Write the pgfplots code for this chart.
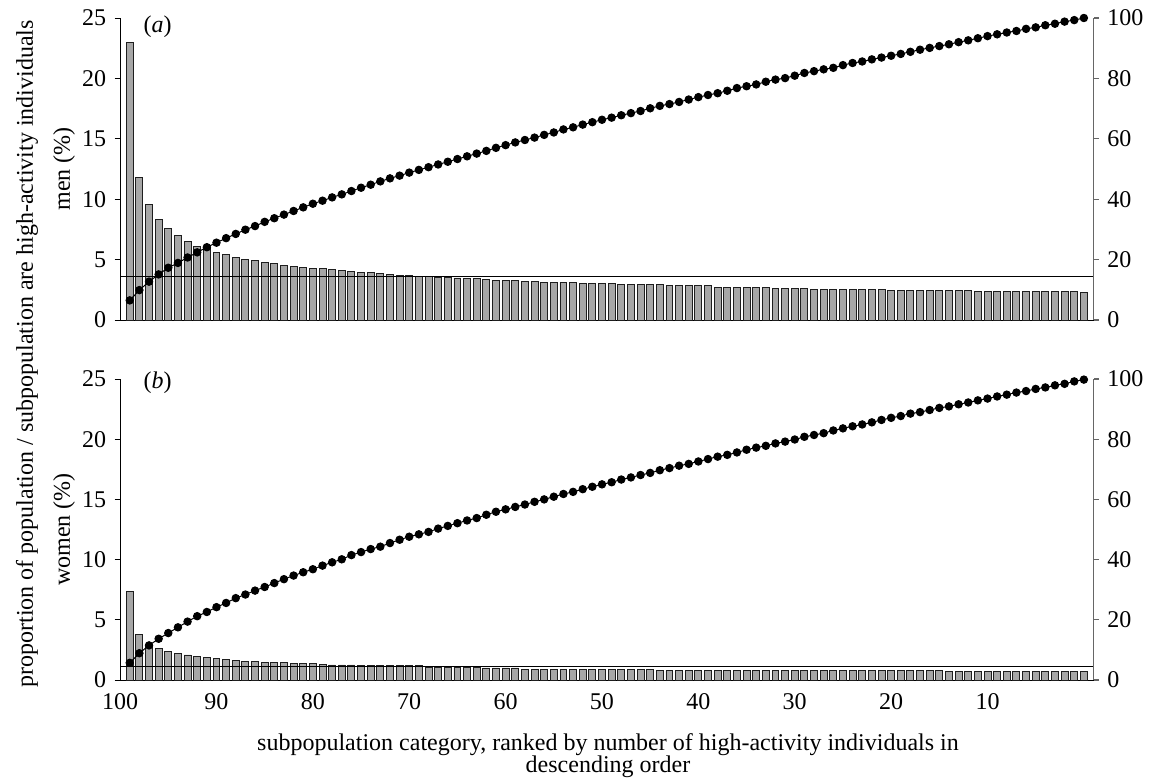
\documentclass[border=0pt]{standalone}
\usepackage{fontspec}
\setmainfont{Liberation Serif}
\usepackage{pgfplots}
\usepackage{pgfplotstable}
\pgfplotsset{compat=1.18}
\definecolor{barfill}{RGB}{166,166,166}
\definecolor{baredge}{RGB}{30,30,30}

\pgfplotstableread{
pos bar cum
1 23.0 6.5
2 11.8 9.9
3 9.6 12.7
4 8.3 15.1
5 7.6 17.3
6 7.0 18.9
7 6.5 20.7
8 6.1 22.4
9 5.9 24.1
10 5.6 25.6
11 5.4 27.1
12 5.2 28.5
13 5.0 29.9
14 4.9 31.1
15 4.8 32.5
16 4.65 33.7
17 4.5 34.9
18 4.4 36.1
19 4.35 37.3
20 4.3 38.5
21 4.25 39.5
22 4.2 40.6
23 4.1 41.6
24 4.0 42.7
25 3.95 43.8
26 3.9 44.8
27 3.85 45.9
28 3.75 46.9
29 3.7 47.8
30 3.65 48.8
31 3.62 49.7
32 3.58 50.6
33 3.55 51.5
34 3.5 52.4
35 3.48 53.3
36 3.45 54.2
37 3.42 55.1
38 3.36 56.0
39 3.3 57.0
40 3.28 57.9
41 3.25 58.8
42 3.22 59.6
43 3.2 60.4
44 3.14 61.3
45 3.14 62.1
46 3.14 63.1
47 3.14 63.8
48 3.03 64.7
49 3.03 65.5
50 3.03 66.3
51 3.03 67.0
52 2.92 67.8
53 2.92 68.5
54 2.92 69.2
55 2.92 70.1
56 2.92 70.9
57 2.84 71.5
58 2.84 72.2
59 2.84 73.0
60 2.84 73.8
61 2.84 74.5
62 2.73 75.1
63 2.73 75.9
64 2.73 76.8
65 2.73 77.4
66 2.73 78.0
67 2.73 78.9
68 2.62 79.6
69 2.62 80.1
70 2.62 80.9
71 2.62 81.8
72 2.54 82.4
73 2.54 83.0
74 2.54 83.5
75 2.54 84.4
76 2.54 85.1
77 2.54 85.6
78 2.54 86.3
79 2.54 86.9
80 2.45 87.5
81 2.45 88.1
82 2.45 88.8
83 2.45 89.5
84 2.45 90.1
85 2.45 90.7
86 2.45 91.3
87 2.45 92.0
88 2.45 92.6
89 2.34 93.3
90 2.34 94.0
91 2.34 94.6
92 2.34 95.2
93 2.34 95.7
94 2.34 96.4
95 2.34 96.9
96 2.34 97.6
97 2.34 98.1
98 2.34 98.8
99 2.34 99.3
100 2.25 100
}\men

\pgfplotstableread{
pos bar cum
1 7.35 5.7
2 3.8 8.9
3 2.95 11.5
4 2.6 13.7
5 2.38 15.6
6 2.2 17.5
7 2.08 19.4
8 1.97 21.2
9 1.86 22.6
10 1.77 24.2
11 1.67 25.6
12 1.64 27.2
13 1.56 28.4
14 1.55 29.7
15 1.47 30.9
16 1.47 32.2
17 1.46 33.5
18 1.37 34.7
19 1.36 35.8
20 1.36 36.8
21 1.26 38.0
22 1.25 39.1
23 1.25 40.1
24 1.25 41.5
25 1.17 42.5
26 1.17 43.5
27 1.17 44.3
28 1.17 45.5
29 1.17 46.6
30 1.17 47.6
31 1.17 48.4
32 1.08 49.2
33 1.08 50.3
34 1.08 51.2
35 1.08 52.1
36 1.08 53.0
37 1.08 53.8
38 1.0 54.9
39 1.0 55.9
40 1.0 56.7
41 1.0 57.5
42 0.9 58.3
43 0.9 59.2
44 0.9 60.0
45 0.9 60.9
46 0.9 61.8
47 0.9 62.5
48 0.9 63.4
49 0.9 64.2
50 0.9 65.0
51 0.9 65.7
52 0.9 66.6
53 0.9 67.3
54 0.9 68.1
55 0.9 68.8
56 0.8 69.7
57 0.8 70.4
58 0.8 71.2
59 0.8 71.8
60 0.8 72.6
61 0.8 73.4
62 0.8 74.2
63 0.8 74.8
64 0.8 75.6
65 0.8 76.5
66 0.8 77.2
67 0.8 77.8
68 0.8 78.6
69 0.8 79.2
70 0.8 79.9
71 0.77 80.8
72 0.77 81.4
73 0.77 82.0
74 0.77 82.9
75 0.77 83.6
76 0.77 84.3
77 0.77 84.9
78 0.77 85.6
79 0.77 86.4
80 0.77 87.1
81 0.77 87.7
82 0.77 88.5
83 0.77 89.0
84 0.77 89.7
85 0.77 90.4
86 0.74 90.9
87 0.74 91.6
88 0.74 92.2
89 0.74 92.9
90 0.74 93.5
91 0.74 94.2
92 0.74 94.8
93 0.74 95.5
94 0.74 96.0
95 0.74 96.7
96 0.74 97.2
97 0.74 97.9
98 0.74 98.4
99 0.74 99.2
100 0.74 99.8
}\women

\pgfplotsset{
  base/.style={
    scale only axis, width=486.7pt, anchor=south west,
    xmin=0, xmax=101,
    tick align=outside, major tick length=2.75pt,
    /pgf/number format/assume math mode=true,
    tick label style={font=\fontsize{12}{13}\selectfont},
    clip=false,
  },
  barax/.style={base,
    ymin=0, ymax=25, ytick={0,5,10,15,20,25},
    axis x line*=bottom, axis y line*=left,
    axis line style={black, line width=0.5pt},
    ytick style={black, line width=0.5pt},
  },
  cumax/.style={base,
    ymin=0, ymax=100, ytick={0,20,40,60,80,100},
    axis x line=none, axis y line*=right,
    y axis line style={black!60, line width=0.6pt},
    ytick style={black!60, line width=0.6pt},
  },
  bars/.style={ybar, bar width=0.72, fill=barfill, draw=baredge, line width=0.45pt},
  cumline/.style={black, line width=0.5pt, mark=*, mark size=1.85pt, mark options={fill=black, draw=black}},
}

\begin{document}
\fontsize{12}{13}\selectfont
\begin{tikzpicture}
\path[use as bounding box] (0pt,0pt) rectangle (575pt,389pt);

% ---- top panel (men)
\begin{axis}[barax, at={(60.05pt,229pt)}, height=151pt, xtick=\empty]
  \addplot[bars] table[x=pos, y=bar] {\men};
  \addplot[black, line width=0.5pt] coordinates {(0,3.6) (101,3.6)};
  \node[anchor=center, font=\fontsize{12}{13}\selectfont] at (rel axis cs:0.0385,0.972) {(\textit{a})};
\end{axis}
\begin{axis}[cumax, at={(60.05pt,229pt)}, height=151pt]
  \addplot[cumline] table[x=pos, y=cum] {\men};
\end{axis}

% ---- bottom panel (women)
\begin{axis}[barax, at={(60.05pt,49pt)}, height=150.5pt,
    xtick={0,10,20,30,40,50,60,70,80,90},
    xticklabels={100,90,80,70,60,50,40,30,20,10},
    x tick style={draw=none}]
  \addplot[bars] table[x=pos, y=bar] {\women};
  \addplot[black, line width=0.5pt] coordinates {(0,1.15) (101,1.15)};
  \node[anchor=center, font=\fontsize{12}{13}\selectfont] at (rel axis cs:0.0385,0.988) {(\textit{b})};
\end{axis}
\begin{axis}[cumax, at={(60.05pt,49pt)}, height=150.5pt]
  \addplot[cumline] table[x=pos, y=cum] {\women};
\end{axis}

% ---- labels
\node[rotate=90] at (13.5pt,212pt) {proportion of population / subpopulation are high-activity individuals};
\node[rotate=90] at (32pt,304.5pt) {men (\%)};
\node[rotate=90] at (32pt,124.25pt) {women (\%)};
\node at (304pt,16.5pt) {subpopulation category, ranked by number of high-activity individuals in};
\node at (304pt,5.5pt) {descending order};
\end{tikzpicture}
\end{document}
